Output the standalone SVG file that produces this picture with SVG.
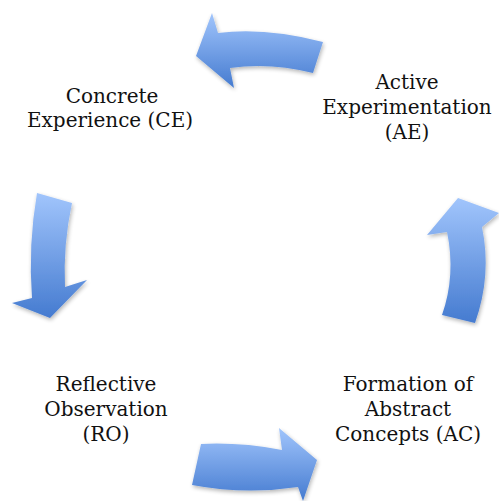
<svg xmlns="http://www.w3.org/2000/svg" width="499" height="501" viewBox="0 0 499 501">
<defs>
<linearGradient id="g" x1="0" y1="0" x2="0" y2="1">
<stop offset="0" stop-color="#a1c5fc"/>
<stop offset="1" stop-color="#457bd0"/>
</linearGradient>
<filter id="sh" x="-20%" y="-20%" width="140%" height="140%">
<feGaussianBlur in="SourceAlpha" stdDeviation="2"/>
<feOffset dx="1" dy="2" result="b"/>
<feComponentTransfer><feFuncA type="linear" slope="0.3"/></feComponentTransfer>
<feMerge><feMergeNode/><feMergeNode in="SourceGraphic"/></feMerge>
</filter>
<style>
.t{font-family:"DejaVu Serif","Liberation Serif",serif;font-size:20px;fill:#111;text-anchor:middle}
.a{fill:url(#g);filter:url(#sh)}
</style>
</defs>
<g id="connectors">
<path id="arrow-top" class="a" d="M196,56 L212,13 L218,33 Q265,27 323,42 L313,73 Q270,62 230,68 L234,88 Z"/>
<path id="arrow-left" class="a" d="M37,193 L72,203 Q63,245 65,287 L87,280 L50,318 L12,303 L32,298 Q28,245 37,193 Z"/>
<path id="arrow-bottom" class="a" d="M201,444 Q240,442 282,450 L279,428 L317,460 L303,501 L298,487 Q245,495 192,485 Z"/>
<path id="arrow-right" class="a" d="M458,198 L499,213 L482,227 Q492,275 475,323 L442,315 Q456,275 447,232 L427,235 Z"/>
</g>
<g id="node-ce">
<text class="t" x="112" y="103">Concrete</text>
<text class="t" x="110" y="127">Experience (CE)</text>
</g>
<g id="node-ae">
<text class="t" x="407" y="89">Active</text>
<text class="t" x="407" y="114">Experimentation</text>
<text class="t" x="407" y="139">(AE)</text>
</g>
<g id="node-ro">
<text class="t" x="106" y="391">Reflective</text>
<text class="t" x="106" y="416">Observation</text>
<text class="t" x="106" y="441">(RO)</text>
</g>
<g id="node-ac">
<text class="t" x="408" y="391">Formation of</text>
<text class="t" x="408" y="416">Abstract</text>
<text class="t" x="408" y="441">Concepts (AC)</text>
</g>
</svg>
